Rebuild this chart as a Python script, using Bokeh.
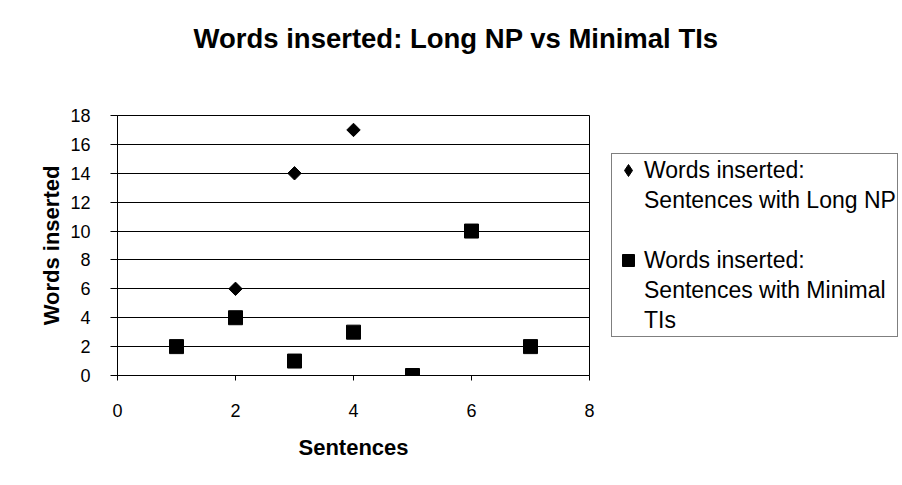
from bokeh.plotting import figure
from bokeh.models import (Range1d, FixedTicker, Legend, LegendItem, ColumnDataSource, Title)
from bokeh.embed import file_html
from bokeh.resources import INLINE
import math

# ---- data ----
title_text = "Words inserted: Long NP vs Minimal TIs"
x_label = "Sentences"
y_label = "Words inserted"
long_np_lines = ["Words inserted:", "Sentences with Long NP"]
minimal_lines = ["Words inserted:", "Sentences with Minimal", "TIs"]

long_np_x = [2, 3, 4]
long_np_y = [6, 14, 17]
minimal_x = [1, 2, 3, 4, 5, 6, 7]
minimal_y = [2, 4, 1, 3, 0, 10, 2]

x_ticks = [0, 2, 4, 6, 8]
y_ticks = [0, 2, 4, 6, 8, 10, 12, 14, 16, 18]

FONT = "Liberation Sans"

p = figure(output_backend="svg", toolbar_location=None,
           frame_width=472, frame_height=260,
           min_border_left=117, min_border_right=297,
           min_border_top=115, min_border_bottom=94,
           x_range=Range1d(0, 8), y_range=Range1d(0, 18))

p.outline_line_color = "black"
p.outline_line_width = 1
p.background_fill_color = "white"
p.border_fill_color = "white"

# main title (outermost) with a blank spacer title between it and the frame
p.title.text = title_text
p.title.align = "left"
p.title.offset = 76
p.title.standoff = 0
p.title.vertical_align = "bottom"
p.title.text_font = FONT
p.title.text_font_style = "bold"
p.title.text_font_size = "27.5px"
p.title.text_color = "black"
spacer = Title(text=" ", text_font_size="10px", standoff=49)
p.add_layout(spacer, "above")

# axes
for ax in (p.xaxis[0], p.yaxis[0]):
    ax.axis_line_color = "black"
    ax.major_tick_line_color = "black"
    ax.minor_tick_line_color = None
    ax.major_tick_in = 0
    ax.major_label_text_font = FONT
    ax.major_label_text_font_size = "18px"
    ax.major_label_text_color = "black"
    ax.axis_label_text_font = FONT
    ax.axis_label_text_font_style = "bold"
    ax.axis_label_text_color = "black"

p.xaxis.ticker = FixedTicker(ticks=x_ticks)
p.yaxis.ticker = FixedTicker(ticks=y_ticks)
p.xaxis.axis_label = x_label
p.yaxis.axis_label = y_label
p.xaxis.major_tick_out = 5
p.yaxis.major_tick_out = 7
p.xaxis.major_label_standoff = 23
p.yaxis.major_label_standoff = 20
p.xaxis.axis_label_standoff = 15
p.yaxis.axis_label_standoff = 3
p.xaxis.axis_label_text_font_size = "22px"
p.yaxis.axis_label_text_font_size = "22px"

# grid
p.xgrid.visible = False
p.ygrid.ticker = FixedTicker(ticks=y_ticks)
p.ygrid.grid_line_color = "black"
p.ygrid.grid_line_width = 1
p.ygrid.grid_line_alpha = 1

src_long = ColumnDataSource(dict(x=long_np_x, y=long_np_y))
src_min = ColumnDataSource(dict(x=minimal_x, y=minimal_y))

r_long = p.scatter("x", "y", source=src_long, marker="square", size=9.5,
                   angle=math.pi / 4, fill_color="black", line_color="black")
# diamond glyph (inside the rotated squares) used for the legend key
r_long_key = p.scatter("x", "y", source=src_long, marker="diamond", size=10,
                       fill_color="black", line_color="black")
r_min = p.scatter("x", "y", source=src_min, marker="square", size=14,
                  fill_color="black", line_color="black")

# legend-only blank key (no data)
lg_blank = p.scatter("x", "y", source=ColumnDataSource(dict(x=[], y=[])),
                     marker="square", fill_alpha=0, line_alpha=0)

items = [LegendItem(label=long_np_lines[0], renderers=[r_long_key]),
         LegendItem(label=long_np_lines[1], renderers=[lg_blank]),
         LegendItem(label=" ", renderers=[lg_blank]),
         LegendItem(label=minimal_lines[0], renderers=[r_min]),
         LegendItem(label=minimal_lines[1], renderers=[lg_blank]),
         LegendItem(label=minimal_lines[2], renderers=[lg_blank])]

legend = Legend(items=items, location=(22, 38),
                border_line_color="black", border_line_width=1,
                background_fill_color="white", background_fill_alpha=1,
                label_text_font=FONT, label_text_font_size="23px",
                label_text_color="black",
                glyph_width=30, glyph_height=30, label_height=30,
                label_standoff=1, padding=1, spacing=0, margin=0)
p.add_layout(legend, "right")

open("out.html", "w").write(file_html(p, INLINE))
